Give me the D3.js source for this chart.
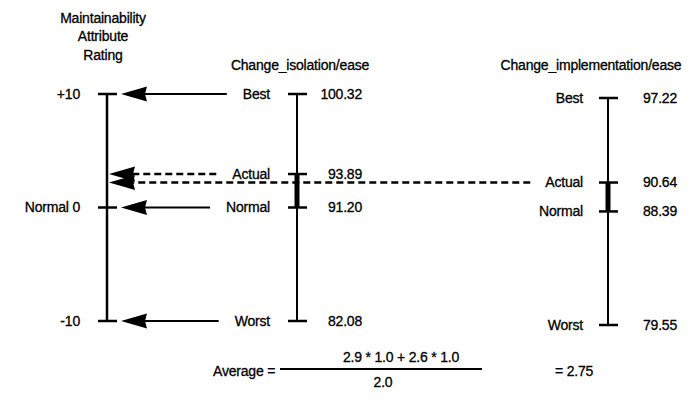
<!DOCTYPE html>
<html>
<head>
<meta charset="utf-8">
<script src="https://cdn.jsdelivr.net/npm/d3@7"></script>
<style>
  html, body { margin: 0; padding: 0; background: #fff; }
  svg { display: block; }
  text { font-family: "Liberation Sans", Arial, Helvetica, sans-serif; font-size: 14px; fill: #000;
         stroke: #000; stroke-width: 0.3px; letter-spacing: -0.2px; }
</style>
</head>
<body>
<svg id="chart" width="691" height="408"></svg>
<script>
// ---- data ----
const levels = ["Best", "Actual", "Normal", "Worst"];
const isolationValues = [100.32, 93.89, 91.20, 82.08];
const implementationValues = [97.22, 90.64, 88.39, 79.55];
const ratingTicks = [10, 0, -10];
const ratingTickLabels = ["+10", "Normal 0", "-10"];
const ratingTitle = ["Maintainability", "Attribute", "Rating"];
const gaugeTitles = ["Change_isolation/ease", "Change_implementation/ease"];
const actualRatings = [2.9, 2.6];
const ratingWeights = [1.0, 1.0];
const averageRating = 2.75;

// ---- layout ----
const svg = d3.select("#chart");
const axisX = 107, isoX = 297, impX = 608;
const fmt2 = d3.format(".2f"), fmt1 = d3.format(".1f");

const yRating = d3.scaleLinear().domain([-10, 10]).range([321, 94]);
const yIso = d3.scaleLinear().domain(d3.extent(isolationValues)).range([321, 94]);
const yImp = d3.scaleLinear().domain(d3.extent(implementationValues)).range([325, 98]);

// ---- rating axis ----
const title = svg.append("text").attr("text-anchor", "middle");
ratingTitle.forEach((t, i) => {
  title.append("tspan").attr("x", 103).attr("y", 18 + i * 18.5).attr("dy", "0.35em").text(t);
});

svg.append("line")
  .attr("x1", axisX).attr("x2", axisX)
  .attr("y1", yRating(10)).attr("y2", yRating(-10))
  .attr("stroke", "#000").attr("stroke-width", 2.5);

svg.selectAll(".rtick").data(ratingTicks).join("line")
  .attr("x1", axisX - 9).attr("x2", axisX + 10)
  .attr("y1", d => yRating(d)).attr("y2", d => yRating(d))
  .attr("stroke", "#000").attr("stroke-width", 2.5);

svg.selectAll(".rlabel").data(ratingTicks).join("text")
  .attr("x", 80).attr("y", d => yRating(d)).attr("dy", "0.35em")
  .attr("text-anchor", "end")
  .text((d, i) => ratingTickLabels[i]);

// ---- gauges ----
function gauge(gx, scale, values, labelRight, valueRight, titleX, titleText) {
  const g = svg.append("g");
  g.append("text").attr("x", titleX).attr("y", 65).attr("dy", "0.35em")
    .attr("text-anchor", "middle").text(titleText);

  const [best, actual, normal, worst] = values;
  g.append("line")
    .attr("x1", gx).attr("x2", gx)
    .attr("y1", scale(best)).attr("y2", scale(worst))
    .attr("stroke", "#000").attr("stroke-width", 2);
  // heavy segment between the normal and actual readings
  g.append("line")
    .attr("x1", gx).attr("x2", gx)
    .attr("y1", scale(actual)).attr("y2", scale(normal))
    .attr("stroke", "#000").attr("stroke-width", 5);

  g.selectAll(".tick").data(values).join("line")
    .attr("x1", gx - 9).attr("x2", gx + 10)
    .attr("y1", d => scale(d)).attr("y2", d => scale(d))
    .attr("stroke", "#000").attr("stroke-width", 2.5);

  const labels = g.selectAll(".lvl").data(values).join("text")
    .attr("x", labelRight).attr("y", d => scale(d)).attr("dy", "0.35em")
    .attr("text-anchor", "end")
    .text((d, i) => levels[i]);

  g.selectAll(".val").data(values).join("text")
    .attr("x", valueRight).attr("y", d => scale(d)).attr("dy", "0.35em")
    .attr("text-anchor", "end")
    .text(d => fmt2(d));

  // left edge of every level label, used to end the arrows
  return labels.nodes().map(n => n.getBBox().x);
}

const isoStarts = gauge(isoX, yIso, isolationValues, 270, 362, 300, gaugeTitles[0]);
const impStarts = gauge(impX, yImp, implementationValues, 583, 677, 591, gaugeTitles[1]);

// ---- arrows onto the rating axis ----
function arrow(y, xStart, tipX, dashed) {
  const headLen = 26, headHalf = 7.5;
  svg.append("line")
    .attr("x1", xStart).attr("x2", tipX + headLen - 2)
    .attr("y1", y).attr("y2", y)
    .attr("stroke", "#000")
    .attr("stroke-width", dashed ? 2.6 : 2)
    .attr("stroke-dasharray", dashed ? "7,4" : null);
  svg.append("path")
    .attr("d", d3.line()([[tipX, y], [tipX + headLen, y - headHalf], [tipX + headLen - 2, y], [tipX + headLen, y + headHalf]]) + "Z")
    .attr("fill", "#000");
}

levels.forEach((lvl, i) => {
  if (lvl === "Actual") return;
  arrow(yIso(isolationValues[i]), isoStarts[i] - 16, 121, false);
});
arrow(yIso(isolationValues[1]), isoStarts[1] - 16, 109, true);
arrow(yImp(implementationValues[1]), impStarts[1] - 15, 109, true);

// ---- weighted average ----
const numerator = actualRatings.map((r, i) => `${fmt1(r)} * ${fmt1(ratingWeights[i])}`).join(" + ");
const denominator = fmt1(d3.sum(ratingWeights));

svg.append("text").attr("x", 213).attr("y", 371).attr("dy", "0.35em").text("Average =");
svg.append("text").attr("x", 401).attr("y", 357).attr("dy", "0.35em")
  .attr("text-anchor", "middle").text(numerator);
svg.append("line").attr("x1", 280).attr("x2", 482).attr("y1", 369).attr("y2", 369)
  .attr("stroke", "#000").attr("stroke-width", 2);
svg.append("text").attr("x", 383).attr("y", 382).attr("dy", "0.35em")
  .attr("text-anchor", "middle").text(denominator);
svg.append("text").attr("x", 555).attr("y", 371).attr("dy", "0.35em").text(`= ${averageRating}`);
</script>
</body>
</html>
